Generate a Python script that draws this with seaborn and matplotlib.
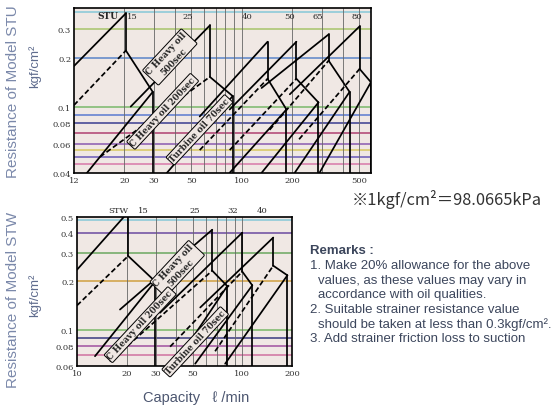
import numpy as np
import pandas as pd
import seaborn as sns
import matplotlib.pyplot as plt
from matplotlib.ticker import NullLocator

sns.set_style('white')
plt.rcParams['font.family'] = ['Liberation Sans', 'DejaVu Sans']

# --- STU chart (top), capacity l/min vs resistance kgf/cm2 ---
stu_models = ['15', '25', '40', '50', '65', '80']
stu_label_q = [22.4, 47.6, 107, 193, 283, 484]
stu_peak_q = [20.4, 64.6, 142.7, 212, 330, 505]
stu_r500 = [0.372, 0.314, 0.250, 0.250, 0.277, 0.310]
stu_r200 = [0.221, 0.153, 0.149, 0.149, 0.192, 0.171]
stu_start500_q = [10, 21.8, 56.2, 84.8, 131.4, 193.7]
stu_start500_r = [0.178, 0.101, 0.088, 0.097, 0.131, 0.120]
stu_start200_q = [10, 14.3, 56.2, 84.8, 146.8, 220]
stu_start200_r = [0.103, 0.050, 0.055, 0.055, 0.073, 0.064]
stu_turb_q = [29.5, 88.4, 185, 287, 440, 590]
stu_turb_r = [0.124, 0.117, 0.097, 0.107, 0.124, 0.142]
stu_turb_start_q = [11.95, 35.8, 84.7, 131.4, 207, 291]
stu_xticks = [10, 20, 30, 50, 100, 200, 500]
stu_xlabels = ['12', '20', '30', '50', '100', '200', '500']
stu_yticks = [0.04, 0.06, 0.08, 0.1, 0.2, 0.3]

# --- STW chart (bottom) ---
stw_models = ['15', '25', '32', '40']
stw_label_q = [25.1, 51.9, 88.1, 132]
stw_peak_q = [20.4, 65.8, 100, 154]
stw_r500 = [0.536, 0.417, 0.400, 0.373]
stw_r200 = [0.287, 0.233, 0.230, 0.250]
stw_start500_q = [10, 18.2, 31.8, 55.7]
stw_start500_r = [0.236, 0.134, 0.128, 0.138]
stw_start200_q = [10, 15.8, 36.6, 68.5]
stw_start200_r = [0.142, 0.064, 0.079, 0.074]
stw_turb_q = [29.7, 81.1, 115, 187.5]
stw_turb_r = [0.200, 0.187, 0.189, 0.218]
stw_turb_start_q = [12.85, 39.3, 51.9, 78.8]
stw_turb_start_r = [0.069, 0.062, 0.062, 0.062]
stw_xticks = [10, 20, 30, 50, 100, 200]
stw_yticks = [0.06, 0.08, 0.1, 0.2, 0.3, 0.4, 0.5]

bg = '#f0e8e4'


def segments(peak_q, r500, r200, s5q, s5r, s2q, s2r, tq, tr, tsq, tsr, floor):
    rows = []
    k = 0
    for i in range(len(peak_q)):
        segs = [
            ([(s5q[i], s5r[i]), (peak_q[i], r500[i])], 'solid'),
            ([(s2q[i], s2r[i]), (peak_q[i], r200[i])], 'dash'),
            ([(peak_q[i], r500[i]), (peak_q[i], r200[i])], 'solid'),
            ([(peak_q[i], r200[i]), (tq[i], tr[i])], 'solid'),
            ([(tsq[i], tsr[i]), (tq[i], tr[i])], 'solid'),
            ([(tq[i], tr[i]), (tq[i], floor)], 'solid'),
        ]
        for pts, kind in segs:
            for q, r in pts:
                rows.append({'seg': k, 'q': q, 'r': r, 'kind': kind})
            k += 1
    return pd.DataFrame(rows)


fig = plt.figure(figsize=(5.52, 4.14), dpi=100)
ax1 = fig.add_axes([0.134, 0.580, 0.538, 0.398])
ax2 = fig.add_axes([0.1395, 0.1135, 0.3895, 0.360])

top_df = segments(stu_peak_q, stu_r500, stu_r200, stu_start500_q, stu_start500_r,
                  stu_start200_q, stu_start200_r, stu_turb_q, stu_turb_r,
                  stu_turb_start_q, [0.04] * 6, 0.04)
bot_df = segments(stw_peak_q, stw_r500, stw_r200, stw_start500_q, stw_start500_r,
                  stw_start200_q, stw_start200_r, stw_turb_q, stw_turb_r,
                  stw_turb_start_q, stw_turb_start_r, 0.06)

# scan-coloured horizontal rules
top_hlines = [(0.38, '#86c8d8'), (0.3, '#a8c46a'), (0.2, '#5a84c8'), (0.1, '#7ab86a'),
              (0.09, '#5a7ad0'), (0.08, '#3a3c90'), (0.07, '#b04070'), (0.06, '#8a5ab0'),
              (0.055, '#d8c860'), (0.05, '#6a5ab8'), (0.045, '#d878a8')]
bot_hlines = [(0.48, '#86c8d8'), (0.4, '#6a4aa0'), (0.3, '#6aa860'), (0.2, '#d0a040'),
              (0.1, '#78b868'), (0.09, '#3a3a80'), (0.08, '#a050a0'), (0.07, '#d070a0')]
top_vgrid = [20, 30, 40, 50, 60, 70, 80, 90, 100, 200, 300, 400, 500]
bot_vgrid = [20, 30, 40, 50, 60, 70, 80, 90, 100]

for ax, df, hl, vg, xlim, ylim in [
        (ax1, top_df, top_hlines, top_vgrid, (10, 590), (0.04, 0.4)),
        (ax2, bot_df, bot_hlines, bot_vgrid, (10, 200), (0.06, 0.5))]:
    ax.set_facecolor(bg)
    ax.set_xscale('log')
    ax.set_yscale('log')
    for y, c in hl:
        ax.axhline(y, color=c, lw=1.1, zorder=1)
    for v in vg:
        ax.axvline(v, color='#666666', lw=0.6, zorder=1)
    sns.lineplot(data=df, x='q', y='r', units='seg', estimator=None, sort=False,
                 style='kind', dashes={'solid': '', 'dash': (3, 1.6)},
                 color='black', lw=1.25, legend=False, ax=ax, zorder=3)
    ax.set_xlim(*xlim)
    ax.set_ylim(*ylim)
    ax.xaxis.set_minor_locator(NullLocator())
    ax.yaxis.set_minor_locator(NullLocator())
    ax.set_xlabel('')
    ax.set_ylabel('')
    ax.tick_params(length=0, labelsize=6, pad=2, colors='#333333')
    for s in ax.spines.values():
        s.set_color('black')
        s.set_linewidth(1.2)

ax1.set_xticks(stu_xticks, stu_xlabels, family='DejaVu Serif')
ax1.set_yticks(stu_yticks, [f'{v:g}' for v in stu_yticks], family='DejaVu Serif')
ax2.set_xticks(stw_xticks, [str(v) for v in stw_xticks], family='DejaVu Serif')
ax2.set_yticks(stw_yticks, [f'{v:g}' for v in stw_yticks], family='DejaVu Serif')

# model numbers along the top
tr1 = ax1.get_xaxis_transform()
ax1.text(15.9, 0.955, 'STU', transform=tr1, ha='center', va='center', size=6.5,
         weight='bold', family='DejaVu Serif')
for q, m in zip(stu_label_q, stu_models):
    ax1.text(q, 0.955, m, transform=tr1, ha='center', va='center', size=6,
             family='DejaVu Serif')
tr2 = ax2.get_xaxis_transform()
ax2.text(17.7, 1.045, 'STW', transform=tr2, ha='center', va='center', size=6,
         family='DejaVu Serif', clip_on=False)
for q, m in zip(stw_label_q, stw_models):
    ax2.text(q, 1.045, m, transform=tr2, ha='center', va='center', size=6,
             family='DejaVu Serif', clip_on=False)

box = dict(boxstyle='round,pad=0.15', fc=bg, ec='black', lw=0.7)
lab = dict(rotation=47, ha='center', va='center', size=6.2, weight='bold',
           family='DejaVu Serif', zorder=5)
ax1.text(37.3, 0.202, 'C Heavy oil\n500sec', bbox=box, **lab)
ax1.text(33.8, 0.0945, 'C Heavy oil 200sec', bbox=box, **lab)
ax1.text(56, 0.073, 'Turbine oil 70sec', bbox=box, **lab)
ax2.text(40.4, 0.24, 'C Heavy oil\n500sec', bbox=box, **lab)
ax2.text(24.1, 0.108, 'C Heavy oil 200sec', bbox=box, **lab)
ax2.text(51.9, 0.0846, 'Turbine oil 70sec', bbox=box, **lab)

# axis titles
W, H = 552, 414
ylab = '#7a88aa'
fig.text(13 / W, 1 - 92 / H, 'Resistance of Model STU', rotation=90, ha='center',
         va='center', size=11, color=ylab)
fig.text(35 / W, 1 - 66 / H, 'kgf/cm²', rotation=90, ha='center', va='center',
         size=9.5, color='#5f6c8e')
fig.text(13 / W, 1 - 300 / H, 'Resistance of Model STW', rotation=90, ha='center',
         va='center', size=11, color=ylab)
fig.text(35 / W, 1 - 295 / H, 'kgf/cm²', rotation=90, ha='center', va='center',
         size=9.5, color='#5f6c8e')
fig.text(196 / W, 1 - 398 / H, 'Capacity   ℓ /min', ha='center', va='center',
         size=10.5, color='#4c5670')

# notes on the right
fig.text(352 / W, 1 - 200 / H, '※1kgf/cm²＝98.0665kPa', ha='left', va='center',
         size=11.8, color='#333333', family=['Noto Sans CJK JP', 'DejaVu Sans'])
remarks = [
    (310, 251, 'Remarks :'),
    (310, 266, '1. Make 20% allowance for the above'),
    (318, 281, 'values, as these values may vary in'),
    (318, 295, 'accordance with oil qualities.'),
    (310, 310, '2. Suitable strainer resistance value'),
    (318, 325, 'should be taken at less than 0.3kgf/cm².'),
    (310, 339, '3. Add strainer friction loss to suction'),
]
for x, y, t in remarks:
    fig.text(x / W, 1 - y / H, t, ha='left', va='center', size=9.5, color='#3c465c',
             weight='bold' if t.startswith('Remarks') else 'normal')

fig.savefig('out.png', dpi=100)
